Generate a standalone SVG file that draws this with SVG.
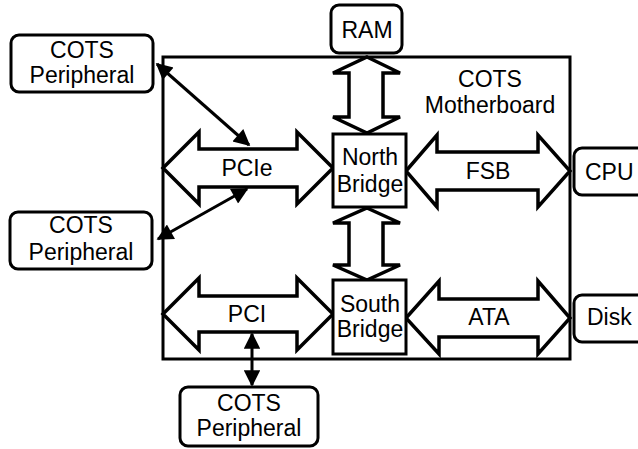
<svg xmlns="http://www.w3.org/2000/svg" width="638" height="449" viewBox="0 0 638 449">
  <style>
    .box { fill: #fff; stroke: #000; stroke-width: 3; }
    .bus { fill: #fff; stroke: #000; stroke-width: 3.5; stroke-linejoin: miter; }
    .link { fill: none; stroke: #000; stroke-width: 3; }
    text { font-family: "Liberation Sans", Arial, sans-serif; font-size: 23px; fill: #000; }
    .c { text-anchor: middle; }
  </style>
  <defs>
    <marker id="head" viewBox="0 0 10 10" refX="9" refY="5" markerWidth="6" markerHeight="5.5" markerUnits="strokeWidth" orient="auto-start-reverse">
      <path d="M0,0 L10,5 L0,10 Z" fill="#000"/>
    </marker>
  </defs>

  <g id="motherboard">
    <rect class="box" x="163" y="57" width="407" height="302"/>
    <text class="c" x="490" y="87">COTS</text>
    <text class="c" x="490" y="113">Motherboard</text>
  </g>

  <g id="connectors">
    <!-- wide bus arrows -->
    <polygon id="pcie" class="bus" points="163,168 199,132 199,149 297,149 297,132 333,168 297,204 297,187 199,187 199,204"/>
    <polygon id="fsb" class="bus" points="406,171 437,135 437,152 538,152 538,135 570,171 538,207 538,190 437,190 437,207"/>
    <polygon id="pci" class="bus" points="163,314 199,278 199,296 297,296 297,278 333,314 297,350 297,332 199,332 199,350"/>
    <polygon id="ata" class="bus" points="406,318 439,281 439,299 538,299 538,281 570,318 538,354 538,337 439,337 439,354"/>
    <polygon id="mem" class="bus" points="367,57 400,73 383,73 383,117 400,117 367,133 333,117 349,117 349,73 333,73"/>
    <polygon id="hub" class="bus" points="367,208 400,223 383,223 383,265 400,265 367,280 333,265 349,265 349,223 333,223"/>
    <!-- thin peripheral links -->
    <line class="link" x1="157" y1="64" x2="249" y2="145" marker-start="url(#head)" marker-end="url(#head)"/>
    <line class="link" x1="158" y1="239" x2="247" y2="189" marker-start="url(#head)" marker-end="url(#head)"/>
    <line class="link" x1="252" y1="334" x2="252" y2="385" marker-start="url(#head)" marker-end="url(#head)"/>
  </g>

  <g id="bus-labels">
    <text class="c" x="247" y="176">PCIe</text>
    <text class="c" x="488" y="179">FSB</text>
    <text class="c" x="247" y="322">PCI</text>
    <text class="c" x="489" y="325">ATA</text>
  </g>

  <g id="ram">
    <rect class="box" x="331" y="5" width="71" height="48" rx="8"/>
    <text class="c" x="367" y="38">RAM</text>
  </g>

  <g id="north-bridge">
    <rect class="box" x="333" y="134" width="73" height="73"/>
    <text class="c" x="370" y="165">North</text>
    <text class="c" x="370" y="192">Bridge</text>
  </g>

  <g id="south-bridge">
    <rect class="box" x="333" y="280" width="73" height="74"/>
    <text class="c" x="370" y="312">South</text>
    <text class="c" x="370" y="337">Bridge</text>
  </g>

  <g id="cpu">
    <rect class="box" x="574" y="148" width="80" height="47" rx="8"/>
    <text x="585" y="180">CPU</text>
  </g>

  <g id="disk">
    <rect class="box" x="574" y="295" width="80" height="47" rx="8"/>
    <text x="587" y="325">Disk</text>
  </g>

  <g id="peripheral-1">
    <rect class="box" x="11" y="35" width="142" height="57" rx="8"/>
    <text class="c" x="82" y="58">COTS</text>
    <text class="c" x="82" y="83">Peripheral</text>
  </g>

  <g id="peripheral-2">
    <rect class="box" x="10" y="212" width="142" height="57" rx="8"/>
    <text class="c" x="81" y="233">COTS</text>
    <text class="c" x="81" y="260">Peripheral</text>
  </g>

  <g id="peripheral-3">
    <rect class="box" x="180" y="387" width="138" height="59" rx="8"/>
    <text class="c" x="249" y="411">COTS</text>
    <text class="c" x="249" y="436">Peripheral</text>
  </g>
</svg>
